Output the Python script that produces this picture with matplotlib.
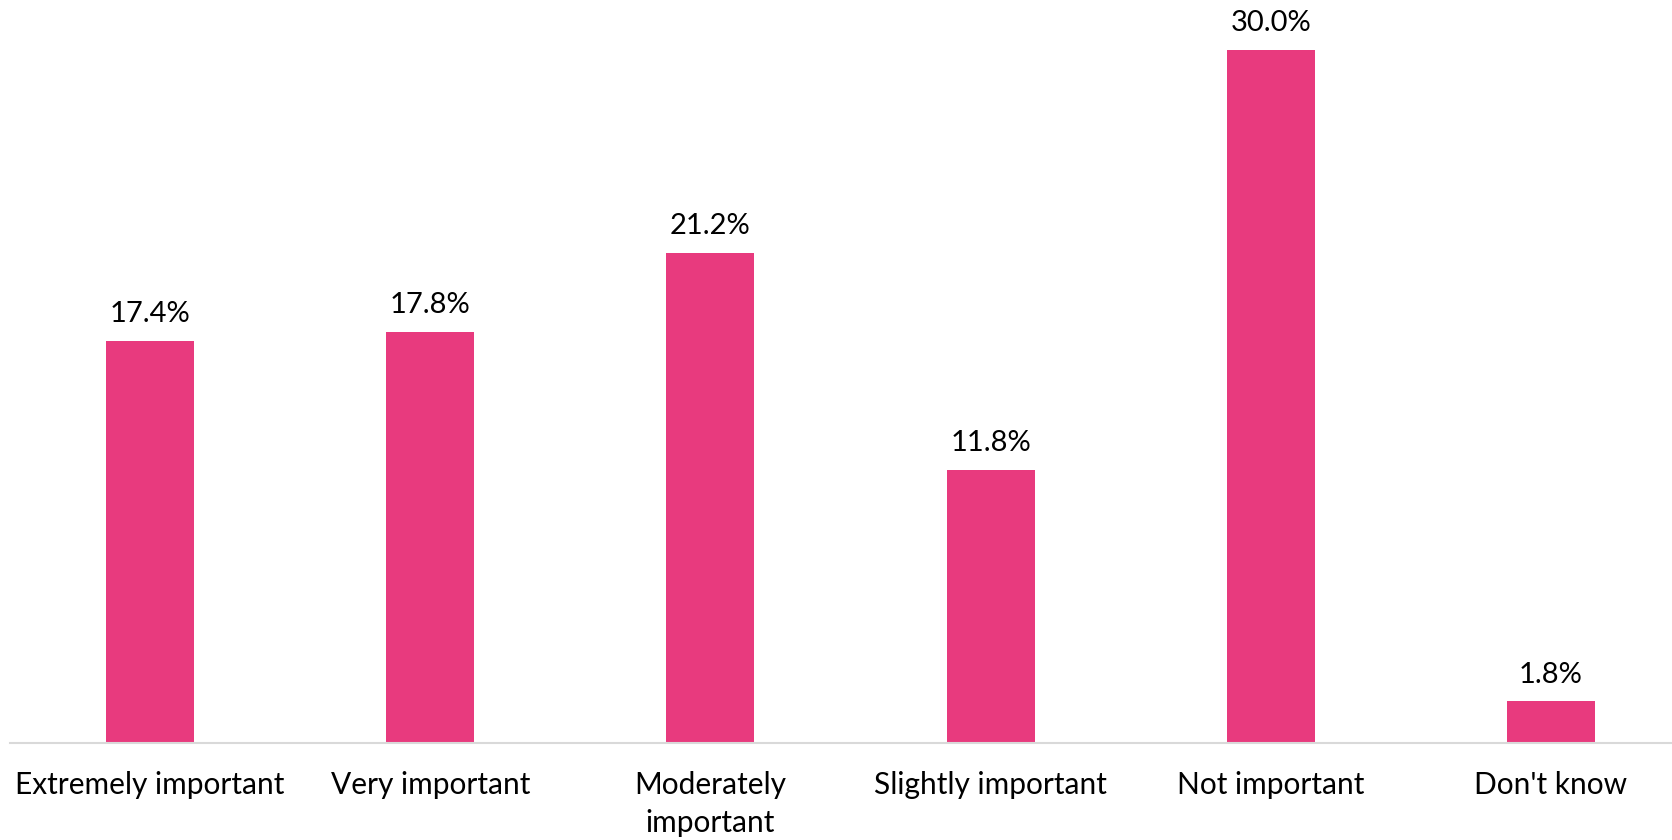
import matplotlib
matplotlib.use("Agg")
import matplotlib.pyplot as plt

categories = ["Extremely important", "Very important", "Moderately\nimportant",
              "Slightly important", "Not important", "Don't know"]
values = [17.4, 17.8, 21.2, 11.8, 30.0, 1.8]
value_labels = ["17.4%", "17.8%", "21.2%", "11.8%", "30.0%", "1.8%"]

BAR_COLOR = "#E83A7E"
AXIS_COLOR = "#D9D9D9"

plt.rcParams["font.family"] = ["Lato", "DejaVu Sans"]

fig = plt.figure(figsize=(16.72, 8.4), dpi=100)
ax = fig.add_axes([10 / 1672, 97 / 840, 1 - 10 / 1672, 743 / 840])

x = list(range(len(categories)))
ax.bar(x, values, width=0.314, color=BAR_COLOR, zorder=2)

for xi, v, lab in zip(x, values, value_labels):
    ax.annotate(lab, (xi, v), xytext=(0, 10), textcoords="offset points",
                ha="center", va="bottom", fontsize=21, color="#000000")

ax.set_xlim(-0.5, 5.432)
ax.set_ylim(0, 32.16)
ax.set_xticks(x)
ax.set_xticklabels(categories, fontsize=21.5, color="#000000", linespacing=1.45)
ax.tick_params(axis="x", length=0, pad=20)
ax.set_yticks([])

for s in ["top", "right", "left"]:
    ax.spines[s].set_visible(False)
ax.spines["bottom"].set_color(AXIS_COLOR)
ax.spines["bottom"].set_linewidth(1.5)

fig.savefig("out.png", dpi=100, facecolor="white")
